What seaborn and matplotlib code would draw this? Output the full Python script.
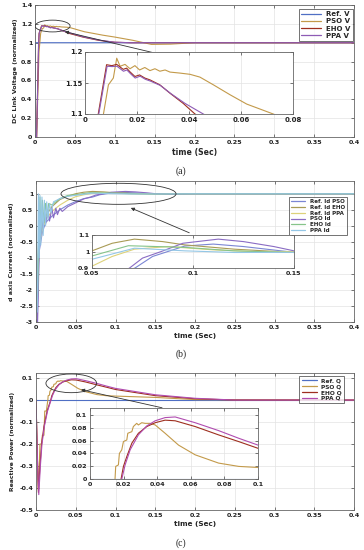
import matplotlib
matplotlib.use("Agg")
import matplotlib.pyplot as plt
import seaborn as sns
import pandas as pd
from matplotlib.patches import Ellipse
from matplotlib.ticker import FuncFormatter

# ---------------- DATA ----------------
# Panel (a): DC link voltage
a_ref_t = [0.0, 0.0005, 0.4]
a_ref_v = [0.0, 1.0, 1.0]
a_pso_t = [0.0, 0.002, 0.005, 0.0071, 0.009, 0.0109, 0.0122, 0.0135, 0.0154, 0.0173, 0.0192, 0.021, 0.023,
           0.025, 0.0269, 0.0288, 0.0308, 0.0327, 0.0365, 0.0404, 0.0442, 0.0494, 0.0558, 0.0622, 0.0724,
           0.085, 0.1, 0.123, 0.146, 0.17, 0.2, 0.4]
a_pso_v = [0.0, 0.0, 0.9, 1.1, 1.147, 1.158, 1.19, 1.177, 1.18, 1.173, 1.178, 1.171, 1.175,
           1.170, 1.173, 1.169, 1.171, 1.1676, 1.166, 1.164, 1.1595, 1.147, 1.131, 1.116, 1.1,
           1.08, 1.06, 1.025, 0.982, 0.985, 1.0, 1.0]
a_eho_t = [0.0, 0.002, 0.0045, 0.0051, 0.0083, 0.0103, 0.0122, 0.0147, 0.016, 0.0173, 0.0192, 0.021, 0.023,
           0.025, 0.0288, 0.0327, 0.0378, 0.0423, 0.06, 0.08, 0.1, 0.12, 0.4]
a_eho_v = [0.0, 0.0, 1.0, 1.1, 1.1795, 1.178, 1.180, 1.172, 1.174, 1.168, 1.1605, 1.163, 1.158,
           1.155, 1.147, 1.1335, 1.117, 1.1, 1.06, 1.025, 1.005, 1.0, 1.0]
a_ppa_t = [0.0, 0.002, 0.0046, 0.0053, 0.0085, 0.0104, 0.0123, 0.0148, 0.0161, 0.0175, 0.0193, 0.0212, 0.0232,
           0.0252, 0.029, 0.033, 0.0385, 0.0455, 0.062, 0.082, 0.1, 0.12, 0.4]
a_ppa_v = [0.0, 0.0, 1.0, 1.1, 1.177, 1.1765, 1.177, 1.169, 1.171, 1.165, 1.158, 1.161, 1.156,
           1.153, 1.146, 1.133, 1.117, 1.1, 1.06, 1.025, 1.005, 1.0, 1.0]
a_names = ["Ref. V", "PSO V", "EHO V", "PPA V"]

# Panel (b): d axis current
b_refpso_t = [0.0, 0.002, 0.004, 0.008, 0.012, 0.02, 0.03, 0.04, 0.05, 0.06, 0.0713, 0.08, 0.0959, 0.11,
              0.125, 0.15, 0.17, 0.2, 0.4]
b_refpso_v = [0.0, -2.5, -0.8, -0.2, 0.1, 0.3, 0.5, 0.65, 0.76, 0.85, 0.9, 0.97, 1.033, 1.045,
              1.03, 0.995, 0.99, 1.0, 1.0]
b_refeho_t = [0.0, 0.002, 0.004, 0.008, 0.012, 0.02, 0.03, 0.04, 0.05, 0.06, 0.071, 0.085, 0.0959, 0.1206,
              0.15, 0.18, 0.2, 0.4]
b_refeho_v = [0.0, -2.0, -0.5, 0.0, 0.3, 0.6, 0.82, 0.93, 1.004, 1.05, 1.075, 1.06, 1.04, 1.014,
              0.994, 0.995, 1.0, 1.0]
b_refppa_t = [0.0, 0.002, 0.004, 0.008, 0.012, 0.02, 0.03, 0.04, 0.05, 0.06, 0.071, 0.0876, 0.11, 0.13,
              0.15, 0.4]
b_refppa_v = [0.0, -1.8, -0.6, -0.1, 0.2, 0.45, 0.65, 0.8, 0.911, 0.97, 1.014, 1.03, 1.01, 1.0,
              1.0, 1.0]
b_psoid_t = [0.0, 0.002, 0.003, 0.004, 0.006, 0.008, 0.010, 0.012, 0.015, 0.017, 0.020, 0.022, 0.025, 0.027,
             0.030, 0.033, 0.04, 0.05, 0.06, 0.0686, 0.075, 0.0843, 0.095, 0.1125, 0.125, 0.14, 0.15,
             0.17, 0.2, 0.4]
b_psoid_v = [0.0, -3.0, -2.0, -0.5, -0.3, 0.0, 0.4, 0.05, 0.5, 0.15, 0.55, 0.25, 0.55, 0.35,
             0.55, 0.45, 0.6, 0.72, 0.84, 0.9, 0.96, 1.0, 1.05, 1.075, 1.06, 1.03, 1.004,
             0.99, 1.0, 1.0]
b_ehoid_t = [0.0, 0.002, 0.003, 0.005, 0.006, 0.008, 0.010, 0.012, 0.014, 0.016, 0.02, 0.03, 0.04, 0.05,
             0.068, 0.096, 0.12, 0.15, 0.18, 0.2, 0.4]
b_ehoid_v = [0.0, -2.2, -1.0, 0.9, -0.2, 0.8, 0.1, 0.7, 0.3, 0.7, 0.65, 0.85, 0.95, 0.973,
             1.035, 1.025, 1.004, 0.994, 0.997, 1.0, 1.0]
b_ppaid_t = [0.0, 0.001, 0.002, 0.003, 0.004, 0.005, 0.006, 0.0075, 0.009, 0.0105, 0.012, 0.0135, 0.015,
             0.017, 0.019, 0.022, 0.03, 0.04, 0.05, 0.071, 0.0959, 0.1206, 0.15, 0.2, 0.4]
b_ppaid_v = [0.0, -2.7, -2.0, 1.0, -1.0, 0.95, -0.6, 0.9, -0.3, 0.8, 0.0, 0.75, 0.2,
             0.7, 0.4, 0.75, 0.85, 0.92, 0.953, 1.02, 1.004, 0.994, 0.995, 1.0, 1.0]
b_names = ["Ref. Id PSO", "Ref. Id EHO", "Ref. Id PPA", "PSO Id", "EHO Id", "PPA Id"]

# Panel (c): reactive power
c_ref_t = [0.0, 0.4]
c_ref_q = [0.0, 0.0]
c_pso_t = [0.0, 0.002, 0.003, 0.005, 0.007, 0.008, 0.010, 0.011, 0.013, 0.0149, 0.0153, 0.0169, 0.0175,
           0.0189, 0.0199, 0.0219, 0.0225, 0.0249, 0.0258, 0.0278, 0.0288, 0.0308, 0.0328, 0.0358,
           0.0388, 0.0447, 0.0527, 0.0626, 0.0765, 0.0885, 0.1, 0.15, 0.2, 0.4]
c_pso_q = [0.0, -0.3, -0.41, -0.2, -0.2, -0.16, -0.16, -0.05, -0.05, 0.0, 0.0197, 0.022, 0.040,
           0.0456, 0.0585, 0.061, 0.0715, 0.074, 0.082, 0.087, 0.0845, 0.088, 0.087, 0.087,
           0.0845, 0.0715, 0.053, 0.0378, 0.0249, 0.0197, 0.018, 0.012, 0.002, 0.0]
c_eho_t = [0.0, 0.002, 0.003, 0.005, 0.007, 0.010, 0.014, 0.0185, 0.0199, 0.0219, 0.0249, 0.0288, 0.0338,
           0.0388, 0.0447, 0.0507, 0.0626, 0.0765, 0.0885, 0.1, 0.15, 0.2, 0.25, 0.4]
c_eho_q = [0.0, -0.3, -0.42, -0.3, -0.2, -0.12, -0.05, 0.0, 0.0197, 0.035, 0.056, 0.0715, 0.082,
           0.088, 0.092, 0.091, 0.082, 0.069, 0.0585, 0.048, 0.02, 0.006, 0.0, 0.0]
c_ppa_t = [0.0, 0.002, 0.0035, 0.0055, 0.0075, 0.0105, 0.0145, 0.0189, 0.0209, 0.0239, 0.0288, 0.0338,
           0.0388, 0.0447, 0.0507, 0.0626, 0.0765, 0.0885, 0.1, 0.15, 0.2, 0.25, 0.4]
c_ppa_q = [0.0, -0.3, -0.43, -0.3, -0.2, -0.12, -0.05, 0.0, 0.022, 0.0456, 0.069, 0.083,
           0.091, 0.096, 0.097, 0.088, 0.0757, 0.0637, 0.053, 0.024, 0.008, 0.0, 0.0]
c_names = ["Ref. Q", "PSO Q", "EHO Q", "PPA Q"]

a_colors = ["#4f6fc4", "#c39a4a", "#9e2f1f", "#8e5bb5"]
b_colors = ["#7b86d4", "#a99b55", "#ddd27a", "#8a6cc4", "#86c48a", "#94c7e6"]
c_colors = ["#4f6fc4", "#c39a4a", "#9e2f1f", "#b04cb0"]

# ---------------- STYLE ----------------
sns.set_theme(style="whitegrid")
plt.rcParams["font.family"] = ["DejaVu Sans"]
plt.rcParams["axes.unicode_minus"] = False

W, H = 364, 550
fig = plt.figure(figsize=(W / 100, H / 100), dpi=100)
fig.patch.set_facecolor("white")


def rect(l, t, r, b):
    return [l / W, 1 - b / H, (r - l) / W, (b - t) / H]


fmt = FuncFormatter(lambda v, p: "%g" % round(v, 4))


def style_axes(ax, xlim, ylim, xticks, yticks, fs=4.6):
    ax.set_xlim(*xlim)
    ax.set_ylim(*ylim)
    ax.set_xticks(xticks)
    ax.set_yticks(yticks)
    ax.xaxis.set_major_formatter(fmt)
    ax.yaxis.set_major_formatter(fmt)
    ax.set_facecolor("white")
    ax.grid(True, color="#e3e3e3", linewidth=0.5)
    for s in ax.spines.values():
        s.set_color("#666666")
        s.set_linewidth(0.6)
        s.set_visible(True)
    ax.tick_params(direction="in", length=2, width=0.5, colors="#444444", pad=2,
                   labelsize=fs, top=True, right=True, bottom=True, left=True)
    for lab in ax.get_xticklabels() + ax.get_yticklabels():
        lab.set_fontweight("bold")
        lab.set_color("#222222")


def draw(ax, ts, vs, names, colors, lw=0.8):
    frames = []
    for t, v, n in zip(ts, vs, names):
        frames.append(pd.DataFrame({"time": t, "value": v, "series": n}))
    df = pd.concat(frames, ignore_index=True)
    sns.lineplot(data=df, x="time", y="value", hue="series", hue_order=names,
                 palette=dict(zip(names, colors)), estimator=None, sort=False,
                 units="series", linewidth=lw, ax=ax, legend=False)
    ax.set_xlabel("")
    ax.set_ylabel("")


def add_legend(ax, names, colors, right, top, fs, hl=2.8):
    from matplotlib.lines import Line2D
    handles = [Line2D([0], [0], color=c, lw=0.9) for c in colors]
    leg = ax.legend(handles, names, loc="upper right",
                    bbox_to_anchor=(right / W, 1 - top / H), bbox_transform=fig.transFigure,
                    prop={"size": fs, "weight": "bold"}, frameon=True, fancybox=False,
                    handlelength=hl, handletextpad=0.8, borderpad=0.35, labelspacing=0.15,
                    borderaxespad=0)
    leg.get_frame().set_edgecolor("#333333")
    leg.get_frame().set_linewidth(0.6)
    leg.set_zorder(20)


main_xticks = [0, 0.05, 0.1, 0.15, 0.2, 0.25, 0.3, 0.35, 0.4]

# ---------------- PANEL (a) ----------------
a_ts = [a_ref_t, a_pso_t, a_eho_t, a_ppa_t]
a_vs = [a_ref_v, a_pso_v, a_eho_v, a_ppa_v]
axA = fig.add_axes(rect(35, 5, 354, 137))
draw(axA, a_ts, a_vs, a_names, a_colors)
style_axes(axA, (0, 0.4), (0, 1.4), main_xticks, [0, 0.2, 0.4, 0.6, 0.8, 1, 1.2, 1.4])
axA.set_xlabel("time (Sec)", fontsize=5.6, fontweight="bold", labelpad=2)
axA.set_ylabel("DC Link Voltage (normalized)", fontsize=4.6, fontweight="bold", labelpad=2)
add_legend(axA, a_names, a_colors, 353, 9, 5.0)
axA.add_patch(Ellipse((0.022, 1.177), 0.044, 0.125, fill=False, edgecolor="#333333", lw=0.6, zorder=6))
axA.annotate("", xy=(0.034, 1.124), xytext=(0.15, 0.891),
             arrowprops=dict(arrowstyle="-|>", color="#333333", lw=0.6, mutation_scale=5), zorder=6)

insA = fig.add_axes(rect(85, 52, 293, 114))
draw(insA, a_ts, a_vs, a_names, a_colors)
style_axes(insA, (0, 0.08), (1.1, 1.2), [0, 0.02, 0.04, 0.06, 0.08], [1.1, 1.15, 1.2], fs=5.0)
insA.set_zorder(10)

fig.text(181 / W, 1 - 171 / H, "(a)", ha="center", va="center", fontsize=7,
         family=["Liberation Serif", "DejaVu Serif"])

# ---------------- PANEL (b) ----------------
b_ts = [b_refpso_t, b_refeho_t, b_refppa_t, b_psoid_t, b_ehoid_t, b_ppaid_t]
b_vs = [b_refpso_v, b_refeho_v, b_refppa_v, b_psoid_v, b_ehoid_v, b_ppaid_v]
axB = fig.add_axes(rect(36, 181, 354, 322))
draw(axB, b_ts, b_vs, b_names, b_colors)
style_axes(axB, (0, 0.4), (-3, 1.4), main_xticks, [-3, -2.5, -2, -1.5, -1, -0.5, 0, 0.5, 1])
axB.set_xlabel("time (Sec)", fontsize=5.2, fontweight="bold", labelpad=2)
axB.set_ylabel("d axis Current (normalized)", fontsize=4.6, fontweight="bold", labelpad=4)
add_legend(axB, b_names, b_colors, 347, 197, 4.0, hl=2.6)
axB.add_patch(Ellipse((0.1038, 1.0), 0.1447, 0.656, fill=False, edgecolor="#333333", lw=0.6, zorder=6))
axB.annotate("", xy=(0.116, 0.594), xytext=(0.196, -0.25),
             arrowprops=dict(arrowstyle="-|>", color="#333333", lw=0.6, mutation_scale=5), zorder=6)

insB = fig.add_axes(rect(92, 235, 294, 268))
draw(insB, b_ts, b_vs, b_names, b_colors)
style_axes(insB, (0.05, 0.15), (0.9, 1.1), [0.05, 0.1, 0.15], [0.9, 1, 1.1], fs=4.6)
insB.set_zorder(10)

fig.text(181 / W, 1 - 354 / H, "(b)", ha="center", va="center", fontsize=7,
         family=["Liberation Serif", "DejaVu Serif"])

# ---------------- PANEL (c) ----------------
c_ts = [c_ref_t, c_pso_t, c_eho_t, c_ppa_t]
c_vs = [c_ref_q, c_pso_q, c_eho_q, c_ppa_q]
axC = fig.add_axes(rect(36, 373, 354, 510))
draw(axC, c_ts, c_vs, c_names, c_colors)
style_axes(axC, (0, 0.4), (-0.5, 0.123), main_xticks, [-0.5, -0.4, -0.3, -0.2, -0.1, 0, 0.1])
axC.set_xlabel("time (Sec)", fontsize=5.2, fontweight="bold", labelpad=2)
axC.set_ylabel("Reactive Power (normalized)", fontsize=4.4, fontweight="bold", labelpad=3)
add_legend(axC, c_names, c_colors, 344, 376, 4.2, hl=2.6)
axC.add_patch(Ellipse((0.0444, 0.076), 0.0638, 0.085, fill=False, edgecolor="#333333", lw=0.6, zorder=6))
axC.annotate("", xy=(0.0532, 0.05), xytext=(0.162, -0.038),
             arrowprops=dict(arrowstyle="-|>", color="#333333", lw=0.6, mutation_scale=5), zorder=6)

insC = fig.add_axes(rect(90, 408, 258, 479))
draw(insC, c_ts, c_vs, c_names, c_colors)
style_axes(insC, (0, 0.1), (0, 0.111), [0, 0.02, 0.04, 0.06, 0.08, 0.1],
           [0, 0.02, 0.04, 0.06, 0.08, 0.1], fs=4.6)
insC.set_zorder(10)

fig.text(181 / W, 1 - 543 / H, "(c)", ha="center", va="center", fontsize=7,
         family=["Liberation Serif", "DejaVu Serif"])

fig.savefig("out.png", dpi=100, facecolor="white")
